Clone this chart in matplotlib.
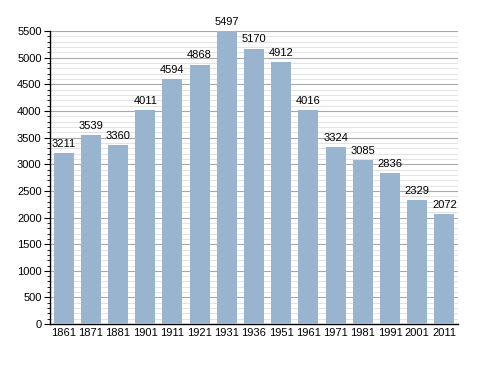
import matplotlib
matplotlib.use("Agg")
import matplotlib.pyplot as plt
from matplotlib.ticker import MultipleLocator

years = ["1861", "1871", "1881", "1901", "1911", "1921", "1931", "1936",
         "1951", "1961", "1971", "1981", "1991", "2001", "2011"]
population = [3211, 3539, 3360, 4011, 4594, 4868, 5497, 5170,
              4912, 4016, 3324, 3085, 2836, 2329, 2072]

plt.rcParams['font.family'] = ['Liberation Sans', 'DejaVu Sans']

fig = plt.figure(figsize=(4.88, 3.73), dpi=100)
ax = fig.add_axes([0.1025, 0.131, 0.836, 0.786])

x = list(range(len(years)))
ax.bar(x, population, width=0.74, color="#98b4cf", zorder=3)
for xi, v in zip(x, population):
    ax.annotate(str(v), (xi, v), xytext=(0, 3), textcoords="offset points",
                ha="center", va="bottom", fontsize=8, zorder=4)

ax.set_xlim(-0.5, len(years) - 0.5)
ax.set_ylim(0, 5500)
ax.yaxis.set_major_locator(MultipleLocator(500))
ax.yaxis.set_minor_locator(MultipleLocator(100))
ax.grid(axis="y", which="major", color="#a8a8a8", linewidth=0.8, zorder=0)
ax.grid(axis="y", which="minor", color="#dedede", linewidth=0.6, zorder=0)
ax.set_xticks(x)
ax.set_xticklabels(years)
ax.tick_params(axis="x", length=0, labelsize=8, pad=3)
ax.tick_params(axis="y", which="major", length=4, labelsize=8, pad=2)
ax.tick_params(axis="y", which="minor", length=2)
for s in ["top", "right"]:
    ax.spines[s].set_visible(False)
ax.spines["left"].set_linewidth(1)
ax.spines["bottom"].set_linewidth(1)

fig.savefig("out.png", dpi=100)
